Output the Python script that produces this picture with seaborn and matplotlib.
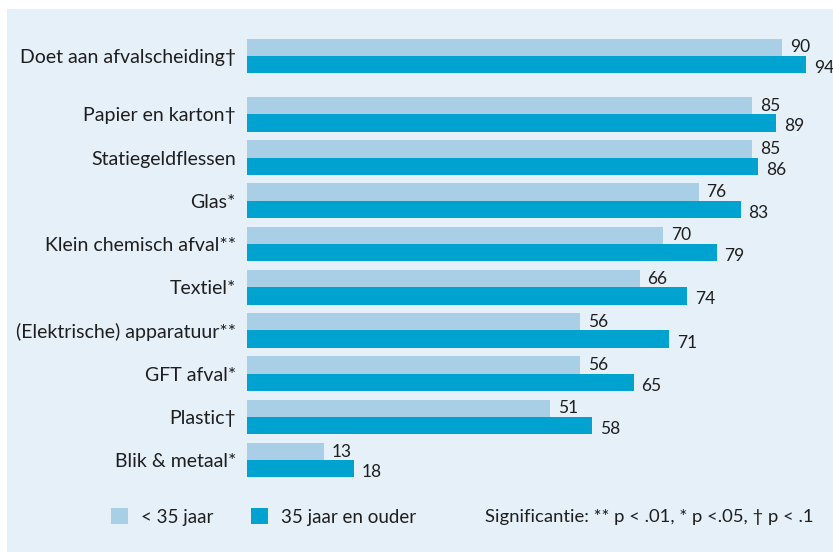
import pandas as pd
import numpy as np
import matplotlib.pyplot as plt
import seaborn as sns
from matplotlib.patches import Rectangle

# ============================
# Data
# ============================
categories = [
    'Doet aan afvalscheiding†',
    'Papier en karton†',
    'Statiegeldflessen',
    'Glas*',
    'Klein chemisch afval**',
    'Textiel*',
    '(Elektrische) apparatuur**',
    'GFT afval*',
    'Plastic†',
    'Blik & metaal*',
]
young = [90, 85, 85, 76, 70, 66, 56, 56, 51, 13]
older = [94, 89, 86, 83, 79, 74, 71, 65, 58, 18]
groups = ['< 35 jaar', '35 jaar en ouder']
note = 'Significantie: ** p < .01, * p <.05, † p < .1'

# ============================
# Layout: extra gap after the first row
# ============================
pos = [0.0] + [1.35 + i for i in range(len(categories) - 1)]

df = pd.DataFrame({
    'pos': pos * 2,
    'value': young + older,
    'group': [groups[0]] * len(categories) + [groups[1]] * len(categories),
})

light = '#A9CFE6'
dark = '#00A3D0'
bg = '#E6F0F9'
txt = '#1E1E1E'

sns.set_style('white')
plt.rcParams['font.family'] = ['Lato', 'DejaVu Sans']

fig = plt.figure(figsize=(8.33, 5.52), dpi=100)
fig.patches.append(Rectangle((7 / 833, 0), 1, (552 - 9) / 552, transform=fig.transFigure,
                             facecolor=bg, edgecolor='none', zorder=-10))

# axes from x=247px to right edge, y 30px..490px from top
ax = fig.add_axes([247 / 833, 1 - 490 / 552, (833 - 247) / 833, 460 / 552])
ax.set_facecolor('none')

sns.barplot(data=df, x='value', y='pos', hue='group', orient='y', native_scale=True,
            palette=[light, dark], width=0.8, gap=0, saturation=1,
            linewidth=0, edgecolor='none', ax=ax)

ax.set_xlim(0, (833 - 247) / 5.947)
ax.set_ylim(10.04, -0.6)
ax.set_yticks(pos)
ax.set_yticklabels(categories, fontsize=14, color=txt)
ax.tick_params(axis='y', length=0, pad=8)
ax.set_xticks([])
ax.set_xlabel('')
ax.set_ylabel('')
for s in ax.spines.values():
    s.set_visible(False)

# value labels
for cont, dy in zip(ax.containers, [0, 2.5]):
    for rect, v in zip(cont, cont.datavalues):
        ax.annotate(f'{v:.0f}', (rect.get_width(), rect.get_y() + rect.get_height() / 2),
                    xytext=(5.5, -dy), textcoords='offset points', ha='left', va='center',
                    fontsize=12.5, color=txt, annotation_clip=False)

handles, labels = ax.get_legend_handles_labels()
ax.get_legend().remove()
fig.legend(handles, labels, loc='center left', bbox_to_anchor=(111 / 833, 1 - 517 / 552),
           ncol=2, frameon=False, fontsize=13.5, handlelength=0.9, handleheight=0.9,
           handletextpad=0.7, columnspacing=2.0, borderpad=0, borderaxespad=0,
           labelcolor=txt)

fig.text(485 / 833, 1 - 517 / 552, note, ha='left', va='center', fontsize=13.3, color=txt)

fig.savefig('out.png', dpi=100)
